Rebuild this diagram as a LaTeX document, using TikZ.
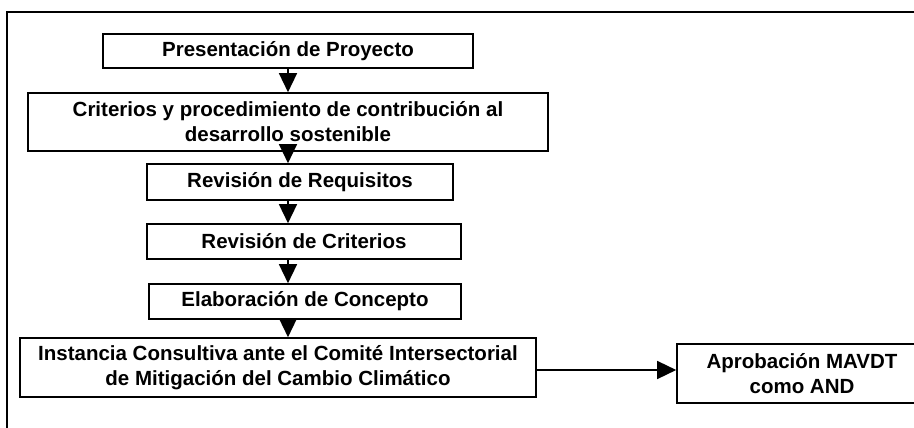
\documentclass[tikz,border=0pt]{standalone}
\usepackage{fontspec}
\setmainfont{Liberation Sans}
\usetikzlibrary{arrows.meta}
\tikzset{
  box/.style={draw=black, line width=1.6pt, inner sep=0pt, align=center,
    font=\fontsize{20.5}{25}\selectfont\bfseries},
  arr/.style={line width=1.4pt, -{Triangle[width=18pt,length=19pt]}},
}
\begin{document}
\begin{tikzpicture}[x=1pt,y=-1pt]
\useasboundingbox (0,0) rectangle (914,428);
\clip (0,0) rectangle (914,428);
\draw[line width=1.6pt] (7,440) -- (7,12) -- (930,12);
\node[box, minimum width=370pt, minimum height=34pt] (b1) at (288,51) {Presentación de Proyecto};
\node[box, minimum width=520pt, minimum height=58pt] (b2) at (288,122) {Criterios y procedimiento de contribución al\\desarrollo sostenible};
\node[box, minimum width=306pt, minimum height=36pt] (b3) at (300,182) {Revisión de Requisitos};
\node[box, minimum width=314pt, minimum height=35pt] (b4) at (304,241.5) {Revisión de Criterios};
\node[box, minimum width=312pt, minimum height=35pt] (b5) at (305,301.5) {Elaboración de Concepto};
\node[box, minimum width=516pt, minimum height=59pt] (b6) at (278,367.5) {Instancia Consultiva ante el Comité Intersectorial\\de Mitigación del Cambio Climático};
\node[box, minimum width=250pt, minimum height=59pt] (b7) at (802,373.5) {Aprobación MAVDT\\como AND};
\draw[arr] (b1.south) -- (b1.south |- b2.north);
\draw[arr] (b2.south) -- (b2.south |- b3.north);
\draw[arr] (b2.south |- b3.south) -- (b2.south |- b4.north);
\draw[arr] (b2.south |- b4.south) -- (b2.south |- b5.north);
\draw[arr] (b2.south |- b5.south) -- (b2.south |- b6.north);
\draw[arr] ([yshift=-2.5pt]b6.east) -- ([yshift=-2.5pt]b6.east -| b7.west);
\end{tikzpicture}
\end{document}
